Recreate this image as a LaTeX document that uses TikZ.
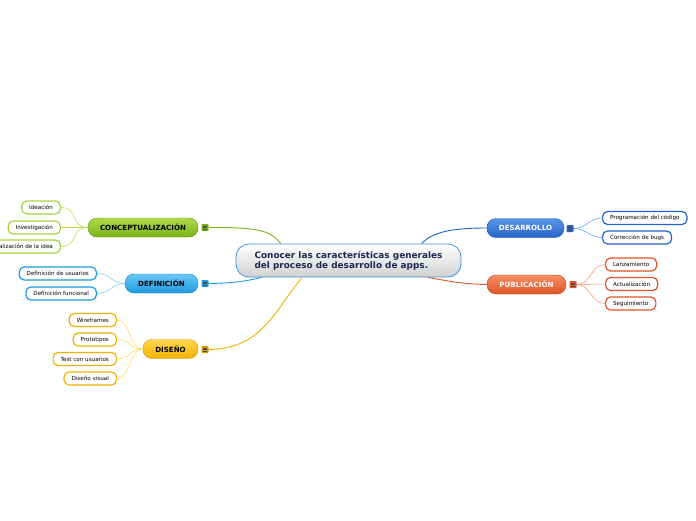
\documentclass[tikz,border=0pt]{standalone}
\usepackage{fontspec}
\setmainfont{DejaVu Sans}
\usetikzlibrary{backgrounds}

\definecolor{grn}{HTML}{7AB317}
\definecolor{grnL}{HTML}{B2DA4A}
\definecolor{grnD}{HTML}{5E8C0E}
\definecolor{blu}{HTML}{1C9BE0}
\definecolor{bluL}{HTML}{6CC8F5}
\definecolor{bluD}{HTML}{1480C0}
\definecolor{ylw}{HTML}{F2B100}
\definecolor{ylwL}{HTML}{FFD84E}
\definecolor{ylwD}{HTML}{D99A00}
\definecolor{dbl}{HTML}{2463C8}
\definecolor{dblL}{HTML}{5B96EA}
\definecolor{dblD}{HTML}{1B4FA8}
\definecolor{org}{HTML}{DF5526}
\definecolor{orgL}{HTML}{F58E64}
\definecolor{orgD}{HTML}{C04215}
\definecolor{navy}{HTML}{1C2850}
\definecolor{rim}{HTML}{3F93D6}

\tikzset{
  topic/.style={rounded corners=9pt, minimum height=19pt, inner xsep=9pt,
    font=\fontsize{7.1}{8}\selectfont\bfseries},
  sub/.style={draw=#1, line width=1.2pt, fill=white, rounded corners=5pt,
    minimum height=13pt, inner xsep=7.5pt, inner ysep=0pt,
    font=\fontsize{5.6}{6}\selectfont},
  menu/.style={fill=#1, minimum size=7pt, inner sep=0pt, rounded corners=0.8pt,
    path picture={\foreach \k in {-1.6,0,1.6}
      \draw[black!70, line width=0.5pt]
      ([xshift=-2pt,yshift=\k pt]path picture bounding box.center) -- ++(4pt,0);}},
  twig/.style={#1, line width=0.5pt},
  limb/.style={#1, line width=0.9pt}
}

\begin{document}
\begin{tikzpicture}[x=1pt,y=-1pt]
\useasboundingbox (0,0) rectangle (696,520);
\clip (0,0) rectangle (696,520);

% Central idea
\node[rounded corners=13pt, draw=rim, line width=0.8pt, top color=white,
  bottom color=black!18, minimum width=225pt, minimum height=33pt,
  align=left, text=navy, font=\fontsize{8.9}{10}\selectfont\bfseries]
  (center) at (348.5,260.5)
  {Conocer las características generales\\del proceso de desarrollo de apps.};

% Main topics
\node[topic, top color=grnL, bottom color=grn, draw=grnD, minimum width=110pt]
  (concep) at (143,227.5) {CONCEPTUALIZACIÓN};
\node[topic, top color=bluL, bottom color=blu, draw=bluD, minimum width=73pt]
  (defin) at (161.5,283.5) {DEFINICIÓN};
\node[topic, top color=ylwL, bottom color=ylw, draw=ylwD, minimum width=55pt]
  (disen) at (170.5,349) {DISEÑO};
\node[topic, top color=dblL, bottom color=dbl, draw=dblD, text=white,
  minimum width=77pt] (desar) at (525.5,228) {DESARROLLO};
\node[topic, top color=orgL, bottom color=org, draw=orgD, text=white,
  minimum width=79pt] (publi) at (526.5,284.5) {PUBLICACIÓN};

% Menu icons
\node[menu=grn] (mConcep) at (205,227.5) {};
\node[menu=blu] (mDefin) at (205,283.5) {};
\node[menu=ylwD] (mDisen) at (205,349.5) {};
\node[menu=dbl] (mDesar) at (570,228.5) {};
\node[menu=org] (mPubli) at (573,284.5) {};

% Subtopics, left
\node[sub=grnL!80!grn, anchor=east] (idea) at (61,207.5) {Ideación};
\node[sub=grnL!80!grn, anchor=east] (inves) at (61,227.5) {Investigación};
\node[sub=grnL!80!grn, anchor=east] (forma) at (61,246.5) {Formalización de la idea};
\node[sub=blu, anchor=east] (usu) at (97,273.5) {Definición de usuarios};
\node[sub=blu, anchor=east] (func) at (97,293.5) {Definición funcional};
\node[sub=ylw, anchor=east] (wire) at (117,320) {Wireframes};
\node[sub=ylw, anchor=east] (proto) at (117,339.5) {Prototipos};
\node[sub=ylw, anchor=east] (test) at (117,359) {Test con usuarios};
\node[sub=ylw, anchor=east] (visu) at (117,378.5) {Diseño visual};

% Subtopics, right
\node[sub=dbl, anchor=west] (progr) at (602,218) {Programación del código};
\node[sub=dbl, anchor=west] (bugs) at (602,237.5) {Corrección de bugs};
\node[sub=org, anchor=west] (lanza) at (605,264.5) {Lanzamiento};
\node[sub=org, anchor=west] (actua) at (605,284) {Actualización};
\node[sub=org, anchor=west] (segui) at (605,303.5) {Seguimiento};

\begin{scope}[on background layer]
% Branches to the centre
\draw[limb=grn] (mConcep.east) .. controls (262,227) and (272,232) .. (center.166);
\draw[limb=blu] (mDefin.east) .. controls (240,283) and (250,280) .. (center.191);
\draw[limb=ylw] (mDisen.east) .. controls (262,349) and (275,310) .. (center.200);
\draw[limb=dbl] (desar.west) .. controls (452,228) and (432,232) .. (center.13);
\draw[limb=org] (publi.west) .. controls (462,284) and (448,281) .. (center.-12);

% Twigs
\foreach \s in {idea,inves,forma}
  \draw[twig=grnL] (concep.west) .. controls +(-18,0) and +(18,0) .. (\s.east);
\foreach \s in {usu,func}
  \draw[twig=bluL] (defin.west) .. controls +(-14,0) and +(14,0) .. (\s.east);
\foreach \s in {wire,proto,test,visu}
  \draw[twig=ylwL] (disen.west) .. controls +(-14,0) and +(14,0) .. (\s.east);
\foreach \s in {progr,bugs}
  \draw[twig=dblL] (mDesar.east) .. controls +(12,0) and +(-12,0) .. (\s.west);
\foreach \s in {lanza,actua,segui}
  \draw[twig=orgL] (mPubli.east) .. controls +(14,0) and +(-14,0) .. (\s.west);
\end{scope}

\end{tikzpicture}
\end{document}
